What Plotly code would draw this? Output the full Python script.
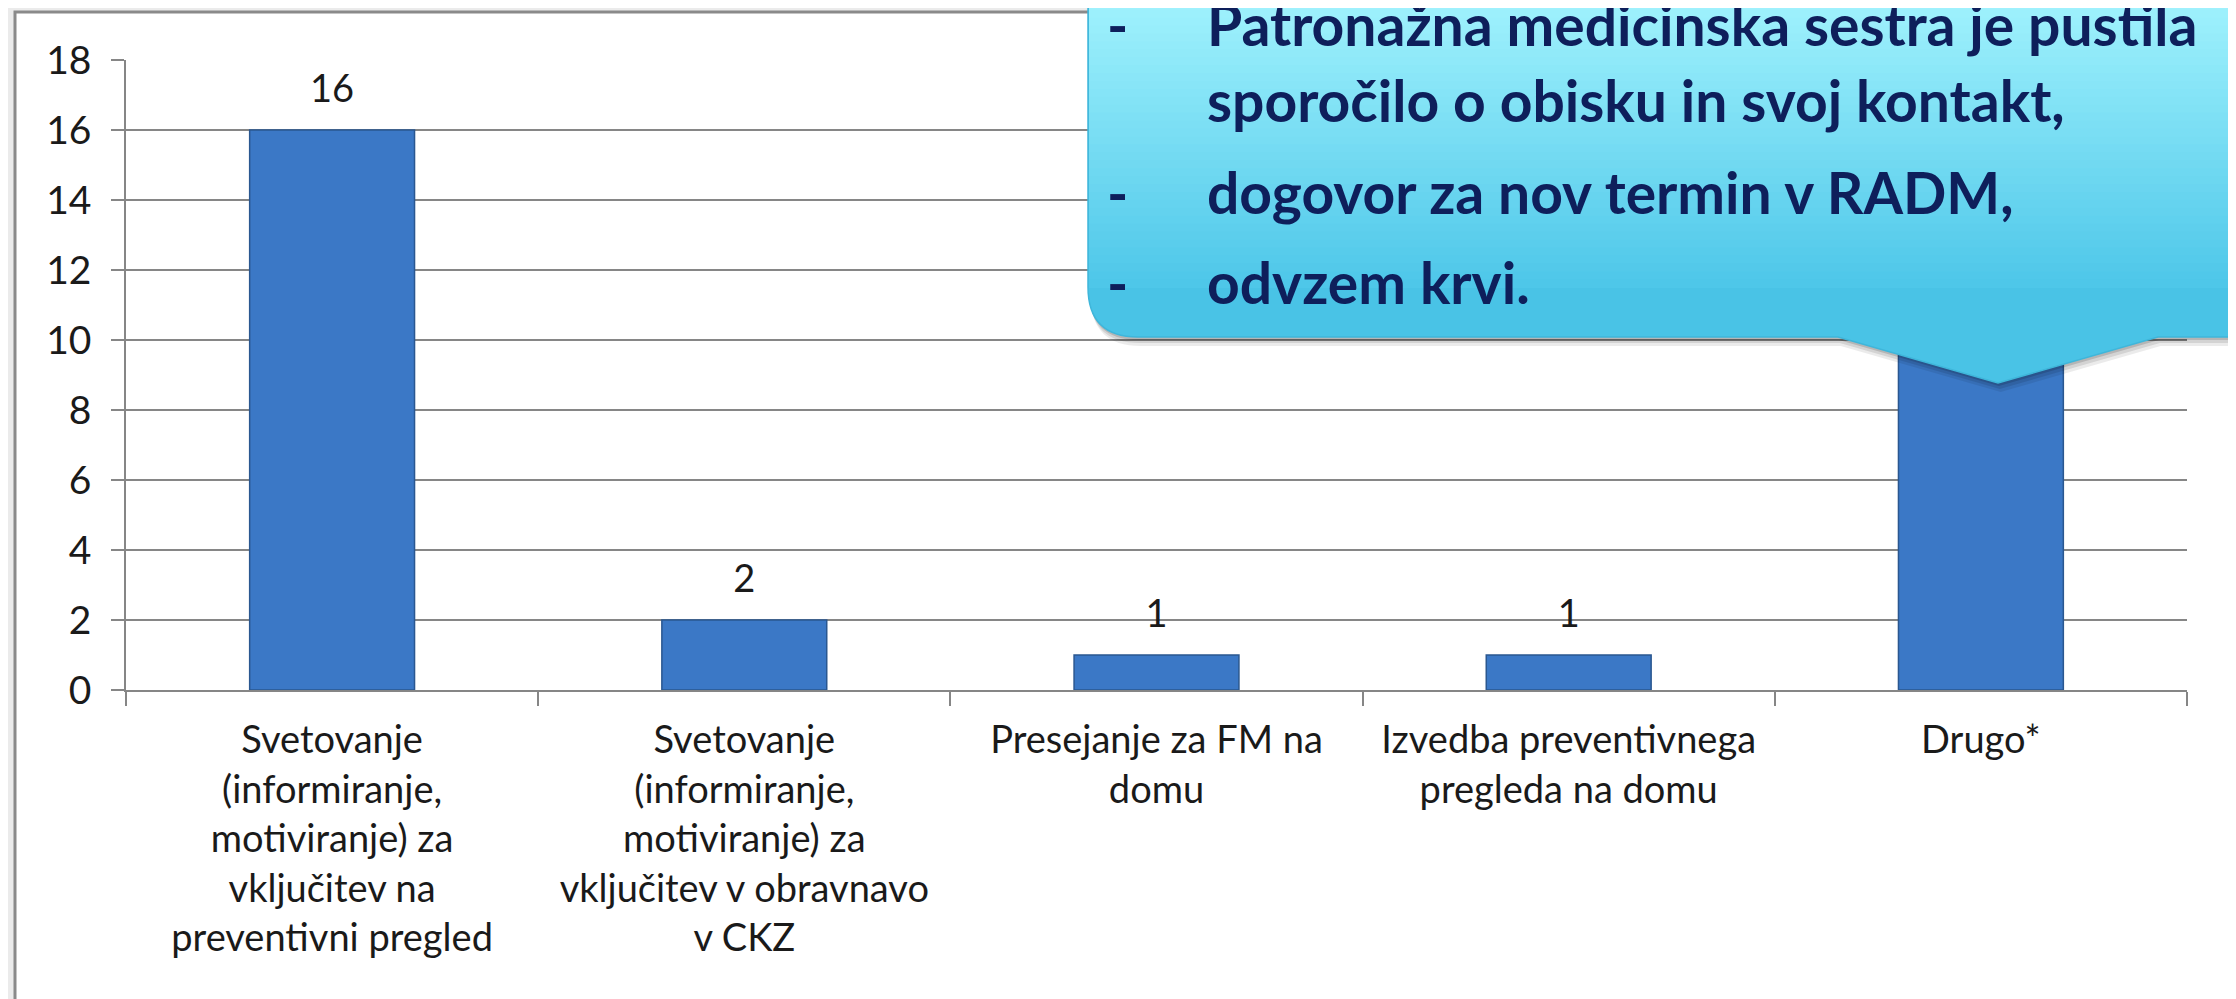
import plotly.graph_objects as go

categories = [
    "Svetovanje<br>(informiranje,<br>motiviranje) za<br>vključitev na<br>preventivni pregled",
    "Svetovanje<br>(informiranje,<br>motiviranje) za<br>vključitev v obravnavo<br>v CKZ",
    "Presejanje za FM na<br>domu",
    "Izvedba preventivnega<br>pregleda na domu",
    "Drugo*",
]
values = [16, 2, 1, 1, 12]
y_ticks = [0, 2, 4, 6, 8, 10, 12, 14, 16, 18]
callout_lines = [
    ("-", "Patronažna medicinska sestra je pustila"),
    ("", "sporočilo o obisku in svoj kontakt,"),
    ("-", "dogovor za nov termin v RADM,"),
    ("-", "odvzem krvi."),
]

W, H = 2236, 999
OFF = 8  # page body margin
L, R, T, B = 126 - OFF, 2187 - OFF, 60 - OFF, 690 - OFF  # plot area in figure pixels


def px(x):
    return (x - OFF - L) / (R - L)


def py(y):
    return (B - (y - OFF)) / (B - T)


FONT = "Lato, 'Open Sans', sans-serif"
GRID = "#868686"

fig = go.Figure()
fig.add_trace(go.Bar(
    x=categories, y=values,
    marker=dict(color="#3b78c6", line=dict(color="#2a5790", width=1.5)),
    width=0.4, hoverinfo="skip",
))
fig.add_trace(go.Scatter(
    x=categories, y=values, mode="markers+text",
    marker=dict(size=28, color="rgba(0,0,0,0)"),
    text=[str(v) for v in values], textposition="top center",
    textfont=dict(family=FONT, size=38, color="#1a1a1a"),
    cliponaxis=False, hoverinfo="skip",
))

shapes = []
# chart area (white with grey border)
shapes.append(dict(type="rect", xref="paper", yref="paper", layer="below",
                   x0=px(15), x1=px(2233), y0=py(1030), y1=py(12),
                   fillcolor="white", line=dict(color="#8a8a8a", width=3)))

# callout geometry (reference pixels)
cx0, cy_bot, Rr = 1088, 337, 50
tip_l, tip_x, tip_r, tip_y = 1838, 1998, 2158, 383
right, top = 2280, -30


def callout_path(dx=0, dy=0):
    p = []
    p.append(f"M {px(cx0+dx)},{py(top+dy)}")
    p.append(f"L {px(cx0+dx)},{py(cy_bot-Rr+dy)}")
    p.append(f"Q {px(cx0+dx)},{py(cy_bot+dy)} {px(cx0+Rr+dx)},{py(cy_bot+dy)}")
    p.append(f"L {px(tip_l+dx)},{py(cy_bot+dy)}")
    p.append(f"L {px(tip_x+dx)},{py(tip_y+dy)}")
    p.append(f"L {px(tip_r+dx)},{py(cy_bot+dy)}")
    p.append(f"L {px(right+dx)},{py(cy_bot+dy)}")
    p.append(f"L {px(right+dx)},{py(top+dy)} Z")
    return " ".join(p)


# shadow
for i, a in enumerate([0.08, 0.10, 0.14]):
    off = 9 - i * 3
    shapes.append(dict(type="path", xref="paper", yref="paper", layer="above",
                       path=callout_path(off * 0.3, off),
                       fillcolor=f"rgba(0,0,0,{a})", line=dict(width=0)))
# base fill
shapes.append(dict(type="path", xref="paper", yref="paper", layer="above",
                   path=callout_path(), fillcolor="#49c3e6",
                   line=dict(color="#3fb6da", width=1.5)))

# gradient strips over the rectangular part
c_top = (168, 246, 255)
c_bot = (78, 199, 233)
N = 40
y_start, y_end = top, cy_bot - Rr
for i in range(N):
    t = i / (N - 1)
    col = tuple(int(round(c_top[k] + (c_bot[k] - c_top[k]) * t)) for k in range(3))
    y0 = y_start + (y_end - y_start) * i / N
    y1 = y_start + (y_end - y_start) * (i + 1) / N + 1
    shapes.append(dict(type="rect", xref="paper", yref="paper", layer="above",
                       x0=px(cx0 + 1), x1=px(right), y0=py(y1), y1=py(y0),
                       fillcolor="rgb(%d,%d,%d)" % col, line=dict(width=0)))

annotations = []
line_y = [24, 100, 192, 282]
for (dash, txt), yy in zip(callout_lines, line_y):
    if dash:
        annotations.append(dict(xref="paper", yref="paper", x=px(1117), y=py(yy),
                                text=dash, showarrow=False, xanchor="center", yanchor="middle",
                                font=dict(family=FONT, size=57, color="#0e1f5b", weight="bold")))
    annotations.append(dict(xref="paper", yref="paper", x=px(1205), y=py(yy),
                            text=txt, showarrow=False, xanchor="left", yanchor="middle",
                            font=dict(family=FONT, size=57, color="#0e1f5b", weight="bold")))

fig.update_layout(
    width=W, height=H,
    margin=dict(l=L, r=W - R, t=T, b=H - B, pad=0),
    paper_bgcolor="#ebebeb", plot_bgcolor="white",
    showlegend=False, bargap=0.6,
    shapes=shapes, annotations=annotations,
    font=dict(family=FONT, color="#1a1a1a"),
)
fig.update_yaxes(range=[0, 18], tickvals=y_ticks, showgrid=True, gridcolor=GRID, gridwidth=1.5,
                 showline=True, linecolor=GRID, linewidth=1.5, ticks="outside", ticklen=13,
                 tickcolor=GRID, tickwidth=1.5, zeroline=False,
                 tickfont=dict(family=FONT, size=39, color="#1a1a1a"), ticklabelstandoff=12)
fig.update_xaxes(range=[-0.5, 4.5], showline=True, linecolor=GRID, linewidth=1.5,
                 ticks="outside", tickson="boundaries", ticklen=14, tickcolor=GRID, tickwidth=1.5,
                 showgrid=False, tickangle=0,
                 tickfont=dict(family=FONT, size=38, color="#1a1a1a"), ticklabelstandoff=16)

fig.write_html("out.html")
